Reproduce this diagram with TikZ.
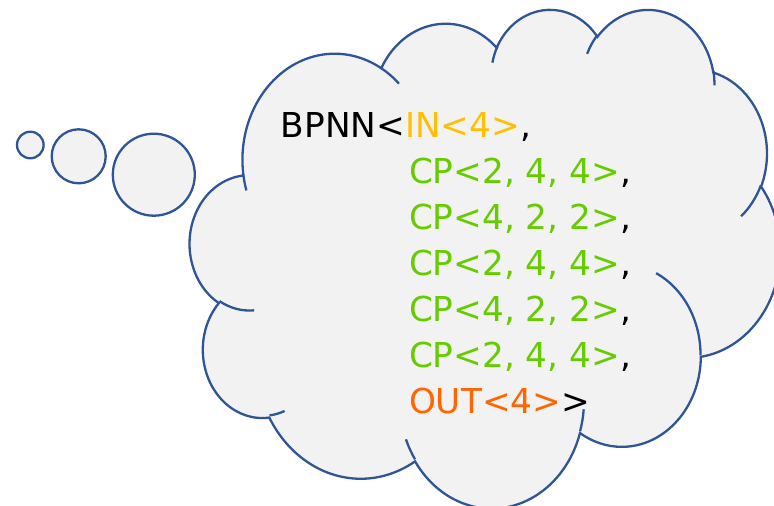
\documentclass[tikz,border=0pt]{standalone}
\usepackage{fontspec}
\setmainfont{DejaVu Sans}
\definecolor{cloudline}{HTML}{2F5597}
\definecolor{cloudfill}{HTML}{F2F2F2}
\definecolor{ingold}{HTML}{FFC000}
\definecolor{cpgreen}{HTML}{66CC00}
\definecolor{outorange}{HTML}{FF6600}

\begin{document}
\begin{tikzpicture}[x=1pt,y=-1pt,
  cloud line/.style={draw=cloudline,line width=2.3pt},
  bubble/.style={circle,cloud line,fill=cloudfill,inner sep=0pt},
  code/.style={anchor=base west,inner sep=0pt,font=\fontsize{34.3}{46}\selectfont},
  lobe/.style n args={4}{x radius=#1,y radius=#2,
    start angle={atan2(#1*sin(#3),#2*cos(#3))},
    delta angle={mod(atan2(#1*sin(#3+#4),#2*cos(#3+#4))-atan2(#1*sin(#3),#2*cos(#3))+720,360)}}]
  \useasboundingbox (0,0) rectangle (774,506);

  % thought bubbles
  \node[bubble,minimum size=26.6pt] (b1) at (30.3,145) {};
  \node[bubble,minimum size=54pt] (b2) at (78.7,156.3) {};
  \node[bubble,minimum size=82pt] (b3) at (153.8,174.7) {};

  % the cloud, in units of 1/432 of its box
  \begin{scope}[shift={(190,8.2)},x=1.36574pt,y=-1.15417pt]
    \draw[cloud line,fill=cloudfill] (39,143.7)
      arc[lobe={67.53}{91.90}{-190.4875}{123.7805}]
      arc[lobe={53.33}{72.67}{-144.1024}{89.9452}]
      arc[lobe={43.65}{59.45}{-145.8079}{99.7230}]
      arc[lobe={48.57}{65.95}{-130.9861}{117.2417}]
      arc[lobe={53.33}{72.73}{-78.7089}{109.0269}]
      arc[lobe={67.75}{92.20}{-46.2673}{130.2690}]
      arc[lobe={57.85}{78.67}{0.6250}{114.0333}]
      arc[lobe={67.52}{92.15}{22.4516}{115.1726}]
      arc[lobe={77.20}{105.43}{66.2426}{75.7110}]
      arc[lobe={43.60}{59.18}{-274.9421}{146.7356}]
      arc[lobe={43.45}{59.45}{-246.8285}{152.5189}]
      -- cycle;
    \draw[cloud line]
      (46.93,261.77) arc[lobe={43.45}{59.45}{86.7420}{26.4295}]
      (69.28,348.99) arc[lobe={43.60}{59.18}{73.6105}{11.4475}]
      (164.78,390.90) arc[lobe={67.52}{92.15}{137.6242}{14.0811}]
      (288.27,347.51) arc[lobe={67.52}{92.15}{6.4533}{15.9984}]
      (341.29,229.54) arc[lobe={57.85}{78.67}{-70.2924}{70.9174}]
      (417.98,153.54) arc[lobe={53.33}{72.73}{30.3180}{27.7515}]
      (383.24,54.26) arc[lobe={48.57}{65.95}{-13.7443}{14.8589}]
      (290.78,39.52) arc[lobe={48.57}{65.95}{-149.1815}{18.1954}]
      (221.41,47.20) arc[lobe={43.65}{59.45}{-163.4943}{17.6864}]
      (140.00,51.92) arc[lobe={67.53}{91.90}{-66.7070}{12.3194}]
      (41.27,157.89) arc[lobe={67.53}{91.90}{157.6544}{11.8582}];
  \end{scope}

  % the network
  \node[code] (head) at (280.6,137.3) {BPNN<\textcolor{ingold}{IN<4>},};
  \node[code] (cp1) at (408.8,183.3) {\textcolor{cpgreen}{CP<2, 4, 4>},};
  \node[code] (cp2) at (408.8,229.3) {\textcolor{cpgreen}{CP<4, 2, 2>},};
  \node[code] (cp3) at (408.8,275.3) {\textcolor{cpgreen}{CP<2, 4, 4>},};
  \node[code] (cp4) at (408.8,321.3) {\textcolor{cpgreen}{CP<4, 2, 2>},};
  \node[code] (cp5) at (408.8,367.3) {\textcolor{cpgreen}{CP<2, 4, 4>},};
  \node[code] (out) at (408.8,413.3) {\textcolor{outorange}{OUT<4>}>};
\end{tikzpicture}
\end{document}
